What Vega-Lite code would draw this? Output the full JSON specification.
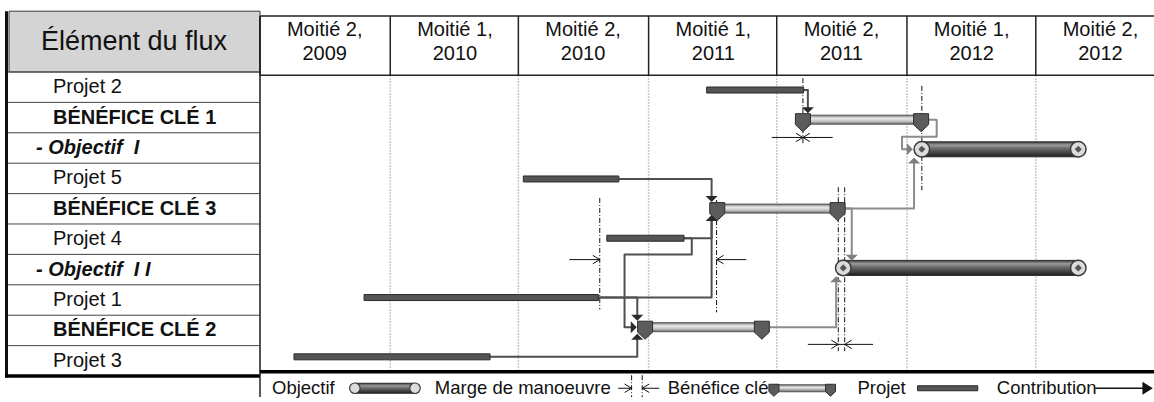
{
"$schema":"https://vega.github.io/schema/vega-lite/v6.json",
"padding":0,
"bounds":"flush",
"spacing":0,
"background":"#ffffff",
"config":{"view":{"stroke":null},"font":"Liberation Sans","text":{"color":"#111111"}},
"datasets":{
"header":[{"title":"Élément du flux"}],
"rows":[
{"row":0,"element":"Projet 2","kind":"projet"},
{"row":1,"element":"BÉNÉFICE CLÉ 1","kind":"benefice"},
{"row":2,"element":"- Objectif \u00a0I","kind":"objectif"},
{"row":3,"element":"Projet 5","kind":"projet"},
{"row":4,"element":"BÉNÉFICE CLÉ 3","kind":"benefice"},
{"row":5,"element":"Projet 4","kind":"projet"},
{"row":6,"element":"- Objectif \u00a0I I","kind":"objectif"},
{"row":7,"element":"Projet 1","kind":"projet"},
{"row":8,"element":"BÉNÉFICE CLÉ 2","kind":"benefice"},
{"row":9,"element":"Projet 3","kind":"projet"}],
"halves":[
{"label":"Moitié 2,\n2009","start":"2009-07-01"},
{"label":"Moitié 1,\n2010","start":"2010-01-01"},
{"label":"Moitié 2,\n2010","start":"2010-07-01"},
{"label":"Moitié 1,\n2011","start":"2011-01-01"},
{"label":"Moitié 2,\n2011","start":"2011-07-01"},
{"label":"Moitié 1,\n2012","start":"2012-01-01"},
{"label":"Moitié 2,\n2012","start":"2012-07-01"}],
"tasks":[
{"element":"Projet 2","kind":"projet","row":0,"start":"2011-03-24","end":"2011-08-08"},
{"element":"BÉNÉFICE CLÉ 1","kind":"benefice","row":1,"start":"2011-08-07","end":"2012-01-21"},
{"element":"- Objectif I","kind":"objectif","row":2,"start":"2012-01-22","end":"2012-08-30"},
{"element":"Projet 5","kind":"projet","row":3,"start":"2010-07-08","end":"2010-11-20"},
{"element":"BÉNÉFICE CLÉ 3","kind":"benefice","row":4,"start":"2011-04-08","end":"2011-09-25"},
{"element":"Projet 4","kind":"projet","row":5,"start":"2010-11-03","end":"2011-02-20"},
{"element":"- Objectif II","kind":"objectif","row":6,"start":"2011-10-03","end":"2012-08-30"},
{"element":"Projet 1","kind":"projet","row":7,"start":"2009-11-25","end":"2010-10-22"},
{"element":"BÉNÉFICE CLÉ 2","kind":"benefice","row":8,"start":"2010-12-27","end":"2011-06-10"},
{"element":"Projet 3","kind":"projet","row":9,"start":"2009-08-18","end":"2010-05-22"}],
"links":[
{"link":"P2-B1","tone":"projet","step":1,"date":"2011-08-08","row":0},
{"link":"P2-B1","tone":"projet","step":2,"date":"2011-08-14","row":0},
{"link":"P2-B1","tone":"projet","step":3,"date":"2011-08-14","row":0.62},
{"link":"B1-O1","tone":"benefice","step":1,"date":"2012-01-21","row":1},
{"link":"B1-O1","tone":"benefice","step":2,"date":"2012-02-12","row":1},
{"link":"B1-O1","tone":"benefice","step":3,"date":"2012-02-12","row":1.58},
{"link":"B1-O1","tone":"benefice","step":4,"date":"2011-12-25","row":1.58},
{"link":"B1-O1","tone":"benefice","step":5,"date":"2011-12-25","row":2},
{"link":"B1-O1","tone":"benefice","step":6,"date":"2012-01-03","row":2},
{"link":"P5-B3","tone":"projet","step":1,"date":"2010-11-20","row":3},
{"link":"P5-B3","tone":"projet","step":2,"date":"2011-03-31","row":3},
{"link":"P5-B3","tone":"projet","step":3,"date":"2011-03-31","row":3.6},
{"link":"P4-B3","tone":"projet","step":1,"date":"2011-02-20","row":5},
{"link":"P4-B3","tone":"projet","step":2,"date":"2011-03-31","row":5},
{"link":"P4-B3","tone":"projet","step":3,"date":"2011-03-31","row":4.4},
{"link":"P1-B3","tone":"projet","step":1,"date":"2010-10-22","row":7},
{"link":"P1-B3","tone":"projet","step":2,"date":"2011-03-31","row":7},
{"link":"P1-B3","tone":"projet","step":3,"date":"2011-03-31","row":4.4},
{"link":"P1-B2","tone":"projet","step":1,"date":"2010-10-22","row":7},
{"link":"P1-B2","tone":"projet","step":2,"date":"2010-12-16","row":7},
{"link":"P1-B2","tone":"projet","step":3,"date":"2010-12-16","row":7.6},
{"link":"P4-B2","tone":"projet","step":1,"date":"2011-02-20","row":5},
{"link":"P4-B2","tone":"projet","step":2,"date":"2011-03-03","row":5},
{"link":"P4-B2","tone":"projet","step":3,"date":"2011-03-03","row":5.55},
{"link":"P4-B2","tone":"projet","step":4,"date":"2010-11-28","row":5.55},
{"link":"P4-B2","tone":"projet","step":5,"date":"2010-11-28","row":8},
{"link":"P4-B2","tone":"projet","step":6,"date":"2010-12-08","row":8},
{"link":"P3-B2","tone":"projet","step":1,"date":"2010-05-22","row":9},
{"link":"P3-B2","tone":"projet","step":2,"date":"2010-12-16","row":9},
{"link":"P3-B2","tone":"projet","step":3,"date":"2010-12-16","row":8.4},
{"link":"B2-O2","tone":"benefice","step":1,"date":"2011-06-10","row":8},
{"link":"B2-O2","tone":"benefice","step":2,"date":"2011-09-23","row":8},
{"link":"B2-O2","tone":"benefice","step":3,"date":"2011-09-23","row":6.45},
{"link":"B3-O1","tone":"benefice","step":1,"date":"2011-09-25","row":4},
{"link":"B3-O1","tone":"benefice","step":2,"date":"2012-01-11","row":4},
{"link":"B3-O1","tone":"benefice","step":3,"date":"2012-01-11","row":2.45},
{"link":"B3-O2","tone":"benefice","step":1,"date":"2011-09-25","row":4},
{"link":"B3-O2","tone":"benefice","step":2,"date":"2011-10-15","row":4},
{"link":"B3-O2","tone":"benefice","step":3,"date":"2011-10-15","row":5.6}],
"heads":[
{"date":"2011-08-14","row":0.68,"dir":"down","tone":"projet"},
{"date":"2012-01-05","row":2,"dir":"right","tone":"benefice"},
{"date":"2011-03-31","row":3.68,"dir":"down","tone":"projet"},
{"date":"2011-03-31","row":4.32,"dir":"up","tone":"projet"},
{"date":"2010-12-16","row":7.68,"dir":"down","tone":"projet"},
{"date":"2010-12-11","row":8,"dir":"right","tone":"projet"},
{"date":"2010-12-16","row":8.32,"dir":"up","tone":"projet"},
{"date":"2011-09-23","row":6.38,"dir":"up","tone":"benefice"},
{"date":"2012-01-11","row":2.38,"dir":"up","tone":"benefice"},
{"date":"2011-10-15","row":5.66,"dir":"down","tone":"benefice"}],
"margin_lines":[
{"date":"2011-08-07","top":-0.4,"bottom":1.8},
{"date":"2012-01-22","top":-0.14,"bottom":3.38},
{"date":"2010-10-24","top":3.64,"bottom":7.4},
{"date":"2011-04-07","top":3.71,"bottom":7.5},
{"date":"2011-09-26","top":3.28,"bottom":8.81},
{"date":"2011-10-05","top":3.28,"bottom":8.81},
{"date":"2010-12-08","top":9.62,"bottom":10.36},
{"date":"2010-12-23","top":9.62,"bottom":10.36}],
"margin_spans":[
{"start":"2011-06-24","end":"2011-09-18","row":1.6},
{"start":"2010-09-11","end":"2010-10-24","row":5.72},
{"start":"2011-04-07","end":"2011-05-19","row":5.72},
{"start":"2011-08-14","end":"2011-11-14","row":8.58},
{"start":"2010-11-19","end":"2010-12-08","row":10.06},
{"start":"2010-12-23","end":"2011-01-16","row":10.06}],
"margin_tips":[
{"date":"2011-08-07","row":1.6,"dir":"right"},
{"date":"2011-08-07","row":1.6,"dir":"left"},
{"date":"2010-10-24","row":5.72,"dir":"right"},
{"date":"2011-04-07","row":5.72,"dir":"left"},
{"date":"2011-09-26","row":8.58,"dir":"right"},
{"date":"2011-10-05","row":8.58,"dir":"left"},
{"date":"2010-12-08","row":10.06,"dir":"right"},
{"date":"2010-12-23","row":10.06,"dir":"left"}],
"legend_labels":[
{"label":"Objectif","at":"2009-07-18"},
{"label":"Marge de manoeuvre","at":"2010-03-05"},
{"label":"Bénéfice clé","at":"2011-01-28"},
{"label":"Projet","at":"2011-10-23"},
{"label":"Contribution","at":"2012-05-07"}],
"legend_bars":[
{"kind":"objectif","start":"2009-11-12","end":"2010-02-05"},
{"kind":"benefice","start":"2011-06-27","end":"2011-09-15"},
{"kind":"projet","start":"2012-01-16","end":"2012-04-10"},
{"kind":"contribution","start":"2012-09-23","end":"2012-12-06"}]
},
"resolve":{"scale":{"x":"independent","y":"independent"}},
"hconcat":[
{"width":260,"height":402,"layer":[
{"data":{"name":"header"},"mark":{"type":"rect","x":9,"x2":260,"fill":"#d4d4d4","stroke":"#3a3a3a","strokeWidth":1},"encoding":{"y":{"datum":-2.5,"type":"quantitative","scale":{"domain":[-2.868,10.355],"reverse":true,"nice":false,"zero":false},"axis":null},"y2":{"datum":-0.5}}},
{"data":{"name":"header"},"mark":{"type":"text","x":134,"align":"center","baseline":"middle","fontSize":27},"encoding":{"y":{"datum":-1.5,"type":"quantitative","scale":{"domain":[-2.868,10.355],"reverse":true,"nice":false,"zero":false},"axis":null},"text":{"field":"title"}}},
{"data":{"name":"rows"},"mark":{"type":"rule","x":8,"x2":260,"yOffset":-15.2,"color":"#444444","strokeWidth":1},"encoding":{"y":{"field":"row","type":"quantitative","scale":{"domain":[-2.868,10.355],"reverse":true,"nice":false,"zero":false},"axis":null}}},
{"data":{"name":"rows"},"transform":[{"filter":"datum.kind === 'projet'"}],"mark":{"type":"text","x":53,"align":"left","baseline":"middle","fontSize":20},"encoding":{"y":{"field":"row","type":"quantitative","scale":{"domain":[-2.868,10.355],"reverse":true,"nice":false,"zero":false},"axis":null},"text":{"field":"element"}}},
{"data":{"name":"rows"},"transform":[{"filter":"datum.kind === 'benefice'"}],"mark":{"type":"text","x":53,"align":"left","baseline":"middle","fontSize":20,"fontWeight":"bold"},"encoding":{"y":{"field":"row","type":"quantitative","scale":{"domain":[-2.868,10.355],"reverse":true,"nice":false,"zero":false},"axis":null},"text":{"field":"element"}}},
{"data":{"name":"rows"},"transform":[{"filter":"datum.kind === 'objectif'"}],"mark":{"type":"text","x":36,"align":"left","baseline":"middle","fontSize":20,"fontWeight":"bold","fontStyle":"italic"},"encoding":{"y":{"field":"row","type":"quantitative","scale":{"domain":[-2.868,10.355],"reverse":true,"nice":false,"zero":false},"axis":null},"text":{"field":"element"}}},
{"data":{"name":"header"},"mark":{"type":"rule","x":6.5,"strokeWidth":3,"color":"#111111"},"encoding":{"y":{"datum":-2.5,"type":"quantitative","scale":{"domain":[-2.868,10.355],"reverse":true,"nice":false,"zero":false},"axis":null},"y2":{"datum":9.55}}},
{"data":{"name":"header"},"mark":{"type":"rule","x":5,"x2":260,"strokeWidth":3.5,"color":"#000000"},"encoding":{"y":{"datum":9.5,"type":"quantitative","scale":{"domain":[-2.868,10.355],"reverse":true,"nice":false,"zero":false},"axis":null}}}
]},
{"width":894,"height":402,
"resolve":{"scale":{"shape":"independent","fill":"independent","color":"independent"}},
"layer":[
{"data":{"name":"halves"},"mark":{"type":"rule","color":"#b8b8b8","strokeWidth":1.5,"strokeDash":[1.5,1.5]},"encoding":{"x":{"field":"start","type":"temporal","scale":{"type":"utc","domain":[{"year":2009,"month":7,"date":1,"utc":true},{"year":2012,"month":12,"date":15,"utc":true}],"nice":false},"axis":null},"y":{"datum":-0.5,"type":"quantitative","scale":{"domain":[-2.868,10.355],"reverse":true,"nice":false,"zero":false},"axis":null},"y2":{"datum":9.5}}},
{"data":{"name":"halves"},"mark":{"type":"rule","color":"#222222","strokeWidth":1.5},"encoding":{"x":{"field":"start","type":"temporal","axis":null},"y":{"datum":-2.5,"type":"quantitative","axis":null},"y2":{"datum":-0.5}}},
{"data":{"name":"header"},"mark":{"type":"rule","color":"#222222","strokeWidth":1.5},"encoding":{"x":{"datum":{"year":2009,"month":7,"date":1,"utc":true},"type":"temporal","axis":null},"y":{"datum":-2.5,"type":"quantitative","axis":null},"y2":{"datum":10.355}}},
{"data":{"name":"header"},"mark":{"type":"rule","color":"#222222","strokeWidth":1.5},"encoding":{"y":{"datum":-2.5,"type":"quantitative","axis":null}}},
{"data":{"name":"header"},"mark":{"type":"rule","color":"#222222","strokeWidth":1.5},"encoding":{"y":{"datum":-0.5,"type":"quantitative","axis":null}}},
{"data":{"name":"header"},"mark":{"type":"rule","color":"#000000","strokeWidth":3.5},"encoding":{"y":{"datum":9.5,"type":"quantitative","axis":null}}},
{"data":{"name":"halves"},"mark":{"type":"text","fontSize":20,"lineBreak":"\n","lineHeight":24,"align":"center","baseline":"middle","dx":64.7,"dy":-16},"encoding":{"x":{"field":"start","type":"temporal","axis":null},"y":{"datum":-1.5,"type":"quantitative","axis":null},"text":{"field":"label"}}},
{"data":{"name":"margin_lines"},"mark":{"type":"rule","color":"#111111","strokeWidth":1,"strokeDash":[5,2,1,2]},"encoding":{"x":{"field":"date","type":"temporal","axis":null},"y":{"field":"top","type":"quantitative","axis":null},"y2":{"field":"bottom"}}},
{"data":{"name":"margin_spans"},"mark":{"type":"rule","color":"#111111","strokeWidth":1},"encoding":{"x":{"field":"start","type":"temporal","axis":null},"x2":{"field":"end"},"y":{"field":"row","type":"quantitative","axis":null}}},
{"data":{"name":"margin_tips"},"mark":{"type":"point","filled":false,"color":"#111111","strokeWidth":1,"size":196,"opacity":1},"encoding":{"x":{"field":"date","type":"temporal","axis":null},"y":{"field":"row","type":"quantitative","axis":null},"shape":{"field":"dir","type":"nominal","scale":{"domain":["right","left"],"range":["M-1,-0.6L0,0L-1,0.6","M1,-0.6L0,0L1,0.6"]},"legend":null}}},
{"data":{"name":"links"},"mark":{"type":"line","strokeWidth":2,"strokeJoin":"round"},"encoding":{"x":{"field":"date","type":"temporal","axis":null},"y":{"field":"row","type":"quantitative","axis":null},"detail":{"field":"link"},"order":{"field":"step","type":"quantitative"},"color":{"field":"tone","type":"nominal","scale":{"domain":["projet","benefice"],"range":["#4f4f4f","#8c8c8c"]},"legend":null}}},
{"data":{"name":"tasks"},"transform":[{"filter":"datum.kind === 'projet'"}],"mark":{"type":"bar","orient":"horizontal","size":6,"fill":"#555555","stroke":"#2b2b2b","strokeWidth":1},"encoding":{"x":{"field":"start","type":"temporal","axis":null},"x2":{"field":"end"},"y":{"field":"row","type":"quantitative","axis":null}}},
{"data":{"name":"tasks"},"transform":[{"filter":"datum.kind === 'benefice'"}],"mark":{"type":"bar","orient":"horizontal","size":9,"stroke":"#555555","strokeWidth":1,"fill":{"gradient":"linear","x1":0,"y1":0,"x2":0,"y2":1,"stops":[{"offset":0,"color":"#7d7d7d"},{"offset":0.35,"color":"#e8e8e8"},{"offset":0.65,"color":"#c9c9c9"},{"offset":1,"color":"#6e6e6e"}]}},"encoding":{"x":{"field":"start","type":"temporal","axis":null},"x2":{"field":"end"},"y":{"field":"row","type":"quantitative","axis":null}}},
{"data":{"name":"tasks"},"transform":[{"filter":"datum.kind === 'objectif'"}],"mark":{"type":"bar","orient":"horizontal","size":15,"stroke":"#2a2a2a","strokeWidth":1,"fill":{"gradient":"linear","x1":0,"y1":0,"x2":0,"y2":1,"stops":[{"offset":0,"color":"#3c3c3c"},{"offset":0.22,"color":"#9a9a9a"},{"offset":0.45,"color":"#6a6a6a"},{"offset":0.8,"color":"#3a3a3a"},{"offset":1,"color":"#1e1e1e"}]}},"encoding":{"x":{"field":"start","type":"temporal","axis":null},"x2":{"field":"end"},"y":{"field":"row","type":"quantitative","axis":null}}},
{"data":{"name":"tasks"},"transform":[{"filter":"datum.kind === 'benefice'"}],"mark":{"type":"point","shape":"M-0.5,-0.4L0.5,-0.4L0.5,0.33L0,0.8L-0.5,0.33Z","size":900,"filled":true,"fill":"#5c5c5c","stroke":"#2e2e2e","strokeWidth":1,"opacity":1},"encoding":{"x":{"field":"start","type":"temporal","axis":null},"y":{"field":"row","type":"quantitative","axis":null}}},
{"data":{"name":"tasks"},"transform":[{"filter":"datum.kind === 'benefice'"}],"mark":{"type":"point","shape":"M-0.5,-0.4L0.5,-0.4L0.5,0.33L0,0.8L-0.5,0.33Z","size":900,"filled":true,"fill":"#5c5c5c","stroke":"#2e2e2e","strokeWidth":1,"opacity":1},"encoding":{"x":{"field":"end","type":"temporal","axis":null},"y":{"field":"row","type":"quantitative","axis":null}}},
{"data":{"name":"tasks"},"transform":[{"filter":"datum.kind === 'objectif'"}],"mark":{"type":"point","shape":"circle","size":240,"filled":true,"fill":"#dcdcdc","stroke":"#3a3a3a","strokeWidth":1.5,"opacity":1},"encoding":{"x":{"field":"start","type":"temporal","axis":null},"y":{"field":"row","type":"quantitative","axis":null}}},
{"data":{"name":"tasks"},"transform":[{"filter":"datum.kind === 'objectif'"}],"mark":{"type":"point","shape":"circle","size":240,"filled":true,"fill":"#dcdcdc","stroke":"#3a3a3a","strokeWidth":1.5,"opacity":1},"encoding":{"x":{"field":"end","type":"temporal","axis":null},"y":{"field":"row","type":"quantitative","axis":null}}},
{"data":{"name":"tasks"},"transform":[{"filter":"datum.kind === 'objectif'"}],"mark":{"type":"point","shape":"diamond","size":50,"filled":true,"fill":"#555555","opacity":1},"encoding":{"x":{"field":"start","type":"temporal","axis":null},"y":{"field":"row","type":"quantitative","axis":null}}},
{"data":{"name":"tasks"},"transform":[{"filter":"datum.kind === 'objectif'"}],"mark":{"type":"point","shape":"diamond","size":50,"filled":true,"fill":"#555555","opacity":1},"encoding":{"x":{"field":"end","type":"temporal","axis":null},"y":{"field":"row","type":"quantitative","axis":null}}},
{"data":{"name":"heads"},"mark":{"type":"point","filled":true,"size":144,"opacity":1,"strokeWidth":0},"encoding":{"x":{"field":"date","type":"temporal","axis":null},"y":{"field":"row","type":"quantitative","axis":null},"shape":{"field":"dir","type":"nominal","scale":{"domain":["down","up","right"],"range":["M-1,-0.5L1,-0.5L0,0.5Z","M-1,0.5L1,0.5L0,-0.5Z","M-0.5,-1L-0.5,1L0.5,0Z"]},"legend":null},"fill":{"field":"tone","type":"nominal","scale":{"domain":["projet","benefice"],"range":["#2a2a2a","#7f7f7f"]},"legend":null}}},
{"data":{"name":"legend_labels"},"mark":{"type":"text","align":"left","baseline":"middle","fontSize":18.5},"encoding":{"x":{"field":"at","type":"temporal","axis":null},"y":{"datum":10.06,"type":"quantitative","axis":null},"text":{"field":"label"}}},
{"data":{"name":"legend_bars"},"transform":[{"filter":"datum.kind === 'objectif'"}],"mark":{"type":"bar","orient":"horizontal","size":10,"stroke":"#2a2a2a","strokeWidth":1,"fill":{"gradient":"linear","x1":0,"y1":0,"x2":0,"y2":1,"stops":[{"offset":0,"color":"#3c3c3c"},{"offset":0.25,"color":"#9a9a9a"},{"offset":0.5,"color":"#6a6a6a"},{"offset":1,"color":"#222222"}]}},"encoding":{"x":{"field":"start","type":"temporal","axis":null},"x2":{"field":"end"},"y":{"datum":10.06,"type":"quantitative","axis":null}}},
{"data":{"name":"legend_bars"},"transform":[{"filter":"datum.kind === 'objectif'"}],"mark":{"type":"point","shape":"circle","size":110,"filled":true,"fill":"#dcdcdc","stroke":"#3a3a3a","strokeWidth":1.2,"opacity":1},"encoding":{"x":{"field":"start","type":"temporal","axis":null},"y":{"datum":10.06,"type":"quantitative","axis":null}}},
{"data":{"name":"legend_bars"},"transform":[{"filter":"datum.kind === 'objectif'"}],"mark":{"type":"point","shape":"circle","size":110,"filled":true,"fill":"#dcdcdc","stroke":"#3a3a3a","strokeWidth":1.2,"opacity":1},"encoding":{"x":{"field":"end","type":"temporal","axis":null},"y":{"datum":10.06,"type":"quantitative","axis":null}}},
{"data":{"name":"legend_bars"},"transform":[{"filter":"datum.kind === 'benefice'"}],"mark":{"type":"bar","orient":"horizontal","size":7,"stroke":"#555555","strokeWidth":1,"fill":{"gradient":"linear","x1":0,"y1":0,"x2":0,"y2":1,"stops":[{"offset":0,"color":"#7d7d7d"},{"offset":0.4,"color":"#e8e8e8"},{"offset":1,"color":"#6e6e6e"}]}},"encoding":{"x":{"field":"start","type":"temporal","axis":null},"x2":{"field":"end"},"y":{"datum":10.06,"type":"quantitative","axis":null}}},
{"data":{"name":"legend_bars"},"transform":[{"filter":"datum.kind === 'benefice'"}],"mark":{"type":"point","shape":"M-0.5,-0.4L0.5,-0.4L0.5,0.33L0,0.8L-0.5,0.33Z","size":400,"filled":true,"fill":"#5c5c5c","stroke":"#2e2e2e","strokeWidth":1,"opacity":1},"encoding":{"x":{"field":"start","type":"temporal","axis":null},"y":{"datum":10.06,"type":"quantitative","axis":null}}},
{"data":{"name":"legend_bars"},"transform":[{"filter":"datum.kind === 'benefice'"}],"mark":{"type":"point","shape":"M-0.5,-0.4L0.5,-0.4L0.5,0.33L0,0.8L-0.5,0.33Z","size":400,"filled":true,"fill":"#5c5c5c","stroke":"#2e2e2e","strokeWidth":1,"opacity":1},"encoding":{"x":{"field":"end","type":"temporal","axis":null},"y":{"datum":10.06,"type":"quantitative","axis":null}}},
{"data":{"name":"legend_bars"},"transform":[{"filter":"datum.kind === 'projet'"}],"mark":{"type":"bar","orient":"horizontal","size":5,"fill":"#555555","stroke":"#2b2b2b","strokeWidth":1},"encoding":{"x":{"field":"start","type":"temporal","axis":null},"x2":{"field":"end"},"y":{"datum":10.06,"type":"quantitative","axis":null}}},
{"data":{"name":"legend_bars"},"transform":[{"filter":"datum.kind === 'contribution'"}],"mark":{"type":"rule","color":"#111111","strokeWidth":1.5},"encoding":{"x":{"field":"start","type":"temporal","axis":null},"x2":{"field":"end"},"y":{"datum":10.06,"type":"quantitative","axis":null}}},
{"data":{"name":"legend_bars"},"transform":[{"filter":"datum.kind === 'contribution'"}],"mark":{"type":"point","shape":"M-0.8,-1L-0.8,1L0.8,0Z","size":169,"filled":true,"fill":"#111111","strokeWidth":0,"opacity":1},"encoding":{"x":{"field":"end","type":"temporal","axis":null},"y":{"datum":10.06,"type":"quantitative","axis":null}}}
]}
]
}
